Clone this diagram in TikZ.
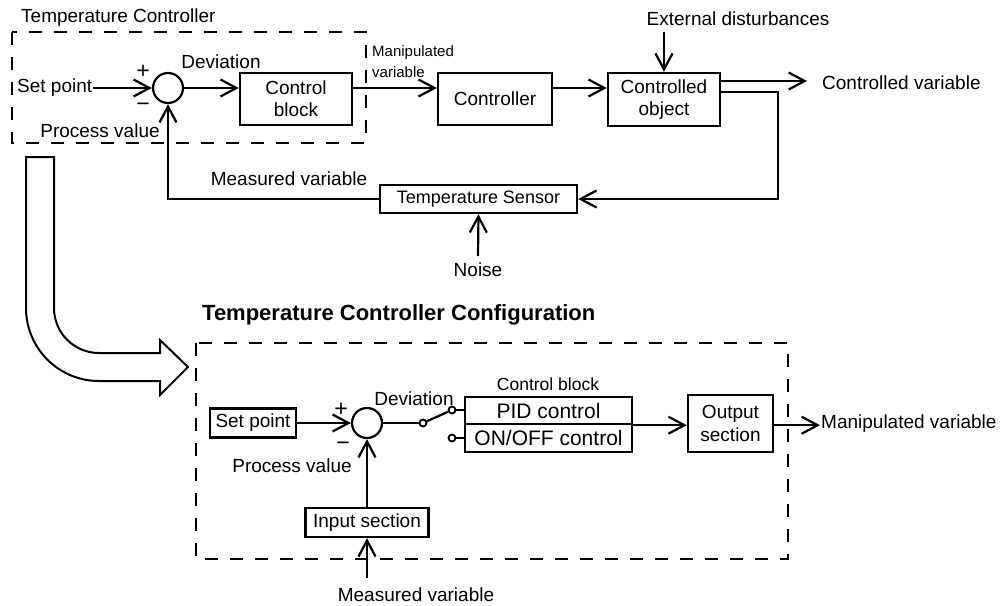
\documentclass[tikz,border=0pt]{standalone}
\usepackage{fontspec}
\setmainfont{Liberation Sans}
\usetikzlibrary{arrows.meta}
\begin{document}
\begin{tikzpicture}[x=1pt,y=-1pt,
  font=\fontsize{19}{22}\selectfont,
  wire/.style={line width=2.2pt},
  arr/.style={wire,-{Straight Barb[length=16pt,width=17pt]}},
  blk/.style={draw,line width=2.4pt,inner sep=0pt,align=center},
  lbl/.style={inner sep=1pt},
  sgn/.style={inner sep=0pt,font=\fontsize{23}{23}\selectfont},
  sumc/.style={draw,circle,line width=2.2pt,minimum size=30pt,inner sep=0pt},
  contact/.style={draw,circle,line width=1.8pt,minimum size=7pt,inner sep=0pt,fill=white},
  dbox/.style={line width=2pt,dash pattern=on 13pt off 12pt},
]
\useasboundingbox (0,0) rectangle (1003,605);

% ---------- top ----------
\node[lbl,anchor=west] (ttl1) at (20,18) {Temperature Controller};
\draw[dbox] (12,32) rectangle (366,143);
\node[lbl,anchor=west] (sp1) at (16,88) {Set point};
\node[sumc] (sum1) at (168,88) {};
\node[sgn] (plus1) at (143,72) {+};
\node[sgn] (minus1) at (143,107) {−};
\node[lbl] (dev1) at (221,62) {Deviation};
\node[lbl] (pv1) at (100,131) {Process value};
\node[blk,minimum width=112pt,minimum height=52pt,font=\fontsize{19}{22}\selectfont] (cblk) at (296,99) {Control\\block};
\node[lbl,anchor=west,align=left,font=\fontsize{15}{21}\selectfont] (mv1) at (371,62) {Manipulated\\variable};
\node[blk,minimum width=114pt,minimum height=52pt] (ctrl) at (495,99) {Controller};
\node[blk,minimum width=112pt,minimum height=53pt] (cobj) at (664,99.5) {Controlled\\object};
\node[lbl] (ext) at (738,19) {External disturbances};
\coordinate (extc) at (664,32);
\node[lbl,anchor=west] (cv) at (821,83) {Controlled variable};
\coordinate (cvtip) at (807,81);
\coordinate (fbr) at (778,92);
\node[blk,minimum width=197pt,minimum height=28pt,font=\fontsize{18}{22}\selectfont] (sens) at (478.5,199) {Temperature Sensor};
\node[lbl] (noise) at (478,270) {Noise};
\coordinate (noisec) at (478,256);
\node[lbl] (mv2) at (289,179) {Measured variable};

\draw[arr] (sp1.east) -- (sum1.west);
\draw[arr] (sum1.east) -- (sum1.east -| cblk.west);
\draw[arr] (sum1.east -| cblk.east) -- (sum1.east -| ctrl.west);
\draw[arr] (sum1.east -| ctrl.east) -- (sum1.east -| cobj.west);
\draw[arr] (extc) -- (cobj.north);
\draw[arr] (cvtip -| cobj.east) -- (cvtip);
\draw[arr] (fbr -| cobj.east) -- (fbr) |- (sens.east);
\draw[arr] (sens.west) -| (sum1.south);
\draw[arr] (noisec) -- (sens.south);

% ---------- curved arrow ----------
\draw[line width=2pt,fill=white,line join=miter] (26,157) -- (54,157) -- (54,308)
  arc[start angle=180,end angle=90,radius=45] -- (160,353) -- (160,340) -- (188,367)
  -- (160,395) -- (160,381) -- (99,381) arc[start angle=90,end angle=180,radius=73] -- cycle;

% ---------- bottom ----------
\node[lbl,anchor=west,font=\bfseries\fontsize{22}{26}\selectfont] (ttl2) at (201,315) {Temperature Controller Configuration};
\draw[dbox] (196,343) rectangle (788,559);
\node[blk,minimum width=86pt,minimum height=29pt] (sp2) at (253,423) {Set point};
\node[sumc] (sum2) at (367,423) {};
\node[sgn] (plus2) at (341,410) {+};
\node[sgn] (minus2) at (343,446) {−};
\node[lbl] (dev2) at (414,399) {Deviation};
\node[lbl,font=\fontsize{17.5}{21}\selectfont] (cbl) at (548,384) {Control block};
\node[blk,minimum width=167pt,minimum height=27pt,font=\fontsize{21}{24}\selectfont] (pid) at (548.5,410.5) {PID control};
\node[blk,minimum width=167pt,minimum height=28pt,font=\fontsize{21}{24}\selectfont] (onoff) at (548.5,438) {ON/OFF control};
\node[contact] (k0) at (423,423) {};
\node[contact] (k1) at (452,410) {};
\node[contact] (k2) at (452,438) {};
\node[blk,minimum width=85pt,minimum height=57pt,font=\fontsize{19}{23}\selectfont] (out) at (730.5,423.5) {Output\\section};
\node[lbl,anchor=west] (mv3) at (820,424) {Manipulated variable};
\node[lbl] (pv2) at (292,466) {Process value};
\node[blk,minimum width=123pt,minimum height=29pt] (inp) at (367,522.5) {Input section};
\node[lbl] (mv4) at (416,595) {Measured variable};
\coordinate (mvc) at (367,578);

\draw[arr] (sp2.east) -- (sum2.west);
\draw[wire] (sum2.east) -- (k0.west);
\draw[wire] (k0) -- (k1);
\draw[wire] (k1.east) -- (k1.east -| pid.west);
\draw[wire] (k2.east) -- (k2.east -| onoff.west);
\draw[arr] (pid.south east) -- (pid.south east -| out.west);
\draw[arr] (pid.south east -| out.east) -- (pid.south east -| mv3.west);
\draw[arr] (inp.north) -- (sum2.south);
\draw[arr] (mvc) -- (inp.south);
\end{tikzpicture}
\end{document}
